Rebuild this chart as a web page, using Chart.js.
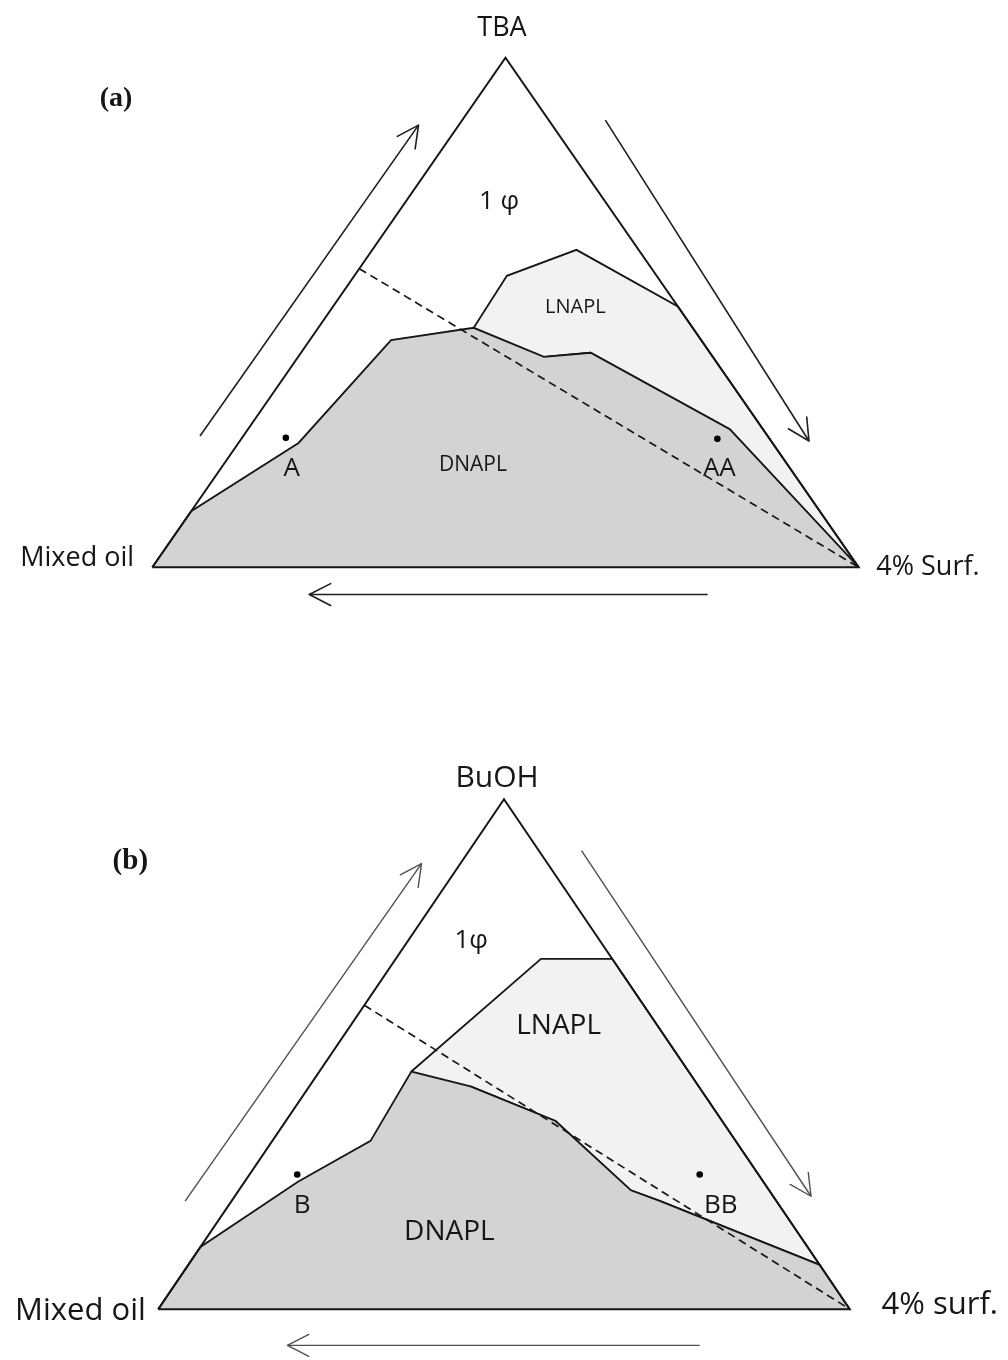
<!DOCTYPE html>
<html>
<head>
<meta charset="utf-8">
<title>Ternary phase diagrams</title>
<script src="https://cdn.jsdelivr.net/npm/chart.js@4.4.0/dist/chart.umd.min.js"></script>
<style>
  html, body { margin: 0; padding: 0; background: #fff; }
  #wrap { position: relative; width: 1008px; height: 1360px; }
  #wrap canvas { position: absolute; left: 0; }
</style>
</head>
<body>
<div id="wrap">
  <canvas id="panelA" width="1008" height="680" style="top:0"></canvas>
  <canvas id="panelB" width="1008" height="680" style="top:680px"></canvas>
</div>
<script>
// Compositions are [alcohol %, surfactant %]; mixed oil is the remainder.
// Vertices: alcohol at the apex, surfactant bottom-right, mixed oil bottom-left.

// ---- (a) TBA / 4% surfactant / mixed oil ----
const tbaDnaplLeft     = [[0, 0], [11.0, 0], [24.4, 8.5], [44.6, 11.5], [47.0, 22.0]];
const tbaPhaseBoundary = [[47.0, 22.0], [41.3, 34.8], [42.1, 41.0], [27.1, 68.2], [0, 100]];
const tbaLnaplTop      = [[47.0, 22.0], [57.2, 21.6], [62.3, 28.9], [51.2, 48.8]];
const tbaDilution      = [[58.6, 0], [0, 100]];
const tbaSampleNames   = ['A', 'AA'];
const tbaSamples       = [[25.4, 6.2], [25.2, 67.4]];

// ---- (b) BuOH / 4% surfactant / mixed oil ----
const buohDnaplLeft     = [[0, 0], [12.2, 0], [25.0, 7.7], [33.0, 14.2], [46.6, 13.3]];
const buohPhaseBoundary = [[46.6, 13.3], [43.7, 23.3], [36.9, 39.0], [23.3, 56.7], [21.2, 62.0], [8.7, 91.3]];
const buohLnaplTop      = [[46.6, 13.3], [68.7, 21.0], [68.7, 31.3]];
const buohDilution      = [[59.6, 0], [0, 100]];
const buohSampleNames   = ['B', 'BB'];
const buohSamples       = [[26.4, 6.9], [26.4, 65.1]];

const vertices = [[0, 0], [0, 100], [100, 0], [0, 0]];

// ternary composition -> plotting plane (base 0..100, height 0..100)
const toXY = ([a, s]) => ({ x: s + a / 2, y: a });
const poly = pts => pts.map(toXY);

const INK = '#161616';
const DNAPL_FILL = '#d3d3d3';
const LNAPL_FILL = '#f2f2f2';
const FONT = '"Open Sans", "DejaVu Sans", sans-serif';

// Draws arrowheads and all text labels, placed through the chart scales.
const annotate = {
  id: 'annotate',
  afterDatasetsDraw(chart, args, opts) {
    const { ctx } = chart;
    const sx = chart.scales.x, sy = chart.scales.y;
    ctx.save();
    (opts.arrows || []).forEach(ar => {
      const fx = sx.getPixelForValue(ar.from[0]), fy = sy.getPixelForValue(ar.from[1]);
      const tx = sx.getPixelForValue(ar.to[0]),   ty = sy.getPixelForValue(ar.to[1]);
      const ang = Math.atan2(ty - fy, tx - fx);
      const L = 24, h = 27 * Math.PI / 180;
      ctx.strokeStyle = ar.color;
      ctx.lineWidth = ar.width;
      ctx.lineCap = 'round';
      ctx.lineJoin = 'round';
      ctx.beginPath();
      ctx.moveTo(tx - L * Math.cos(ang - h), ty - L * Math.sin(ang - h));
      ctx.lineTo(tx, ty);
      ctx.lineTo(tx - L * Math.cos(ang + h), ty - L * Math.sin(ang + h));
      ctx.stroke();
    });
    ctx.fillStyle = INK;
    ctx.textBaseline = 'alphabetic';
    (opts.texts || []).forEach(t => {
      ctx.font = t.font;
      ctx.textAlign = t.align || 'center';
      ctx.fillText(t.text, sx.getPixelForValue(t.at[0]), sy.getPixelForValue(t.at[1]));
    });
    (opts.samples || []).forEach(p => {
      const pt = toXY(p.comp);
      ctx.font = p.font;
      ctx.textAlign = 'center';
      ctx.fillText(p.name, sx.getPixelForValue(pt.x) + p.dx, sy.getPixelForValue(pt.y) + p.dy);
    });
    ctx.restore();
  }
};

function lineSet(data, extra) {
  return Object.assign({
    data, showLine: true, pointRadius: 0, pointHoverRadius: 0,
    borderColor: INK, borderWidth: 1.8, fill: false, tension: 0
  }, extra);
}

function buildPanel(id, p) {
  const dnapl = poly(p.dnaplLeft.concat(p.boundary.slice(1), p.closeRight));
  const lnapl = poly(p.lnaplTop.concat(p.boundary.slice(1, p.boundaryEdge + 1).reverse()));
  const datasets = [
    lineSet(lnapl, { fill: 'shape', backgroundColor: LNAPL_FILL, order: 6 }),
    lineSet(dnapl, { fill: 'shape', backgroundColor: DNAPL_FILL, order: 5 }),
    lineSet(poly(vertices), { borderWidth: 2, order: 4 }),
    lineSet(poly(p.dilution), { borderDash: [8, 5], borderWidth: 1.7, order: 3 }),
    {
      data: poly(p.samples), showLine: false, pointRadius: 3.3, pointHoverRadius: 3.3,
      pointBackgroundColor: '#000', pointBorderColor: '#000', pointBorderWidth: 0, order: 1
    }
  ];
  p.arrows.forEach(ar => {
    datasets.push(lineSet([{ x: ar.from[0], y: ar.from[1] }, { x: ar.to[0], y: ar.to[1] }],
      { borderColor: ar.color, borderWidth: ar.width, order: 2 }));
  });
  return new Chart(document.getElementById(id), {
    type: 'line',
    data: { datasets },
    options: {
      responsive: false,
      animation: false,
      devicePixelRatio: 1,
      layout: { padding: 0 },
      events: [],
      plugins: {
        legend: { display: false },
        tooltip: { enabled: false },
        annotate: {
          arrows: p.arrows,
          texts: p.texts,
          samples: p.sampleNames.map((n, i) => ({ name: n, comp: p.samples[i], dx: p.labelShift[i][0], dy: p.labelShift[i][1], font: p.sampleFont }))
        }
      },
      scales: {
        x: { type: 'linear', min: p.xRange[0], max: p.xRange[1], display: false },
        y: { type: 'linear', min: p.yRange[0], max: p.yRange[1], display: false }
      }
    },
    plugins: [annotate]
  });
}

buildPanel('panelA', {
  dnaplLeft: tbaDnaplLeft, boundary: tbaPhaseBoundary, closeRight: [],
  boundaryEdge: tbaPhaseBoundary.length - 1,
  lnaplTop: tbaLnaplTop.concat([[0, 100]]),
  dilution: tbaDilution, samples: tbaSamples, sampleNames: tbaSampleNames,
  labelShift: [[6, 38], [2, 37]], sampleFont: '26px ' + FONT,
  xRange: [-21.10, 120.68], yRange: [-21.48, 110.69],
  arrows: [
    { from: [6.75, 25.75], to: [37.69, 86.78], color: '#1e1e1e', width: 1.6 },
    { from: [64.14, 87.76], to: [92.97, 24.78], color: '#1e1e1e', width: 1.6 },
    { from: [78.62, -5.35], to: [22.22, -5.35], color: '#1e1e1e', width: 1.6 }
  ],
  texts: [
    { text: 'TBA', at: [49.5, 104.3], font: '27px ' + FONT },
    { text: '(a)', at: [-7.45, 90.5], font: 'bold 28px "Liberation Serif", "Times New Roman", serif', align: 'left' },
    { text: '1 φ', at: [49.1, 70.3], font: '26px ' + FONT },
    { text: 'LNAPL', at: [59.9, 50.0], font: '20px ' + FONT },
    { text: 'DNAPL', at: [45.4, 18.95], font: '21px ' + FONT },
    { text: 'Mixed oil', at: [-18.7, 0.3], font: '27px ' + FONT, align: 'left' },
    { text: '4% Surf.', at: [102.5, -1.46], font: '27px ' + FONT, align: 'left' }
  ]
});

buildPanel('panelB', {
  dnaplLeft: buohDnaplLeft, boundary: buohPhaseBoundary, closeRight: [[0, 100]],
  boundaryEdge: buohPhaseBoundary.length - 1,
  lnaplTop: buohLnaplTop,
  dilution: buohDilution, samples: buohSamples, sampleNames: buohSampleNames,
  labelShift: [[5, 38], [21, 38]], sampleFont: '26px ' + FONT,
  xRange: [-22.41, 122.41], yRange: [-9.32, 122.72],
  arrows: [
    { from: [3.88, 21.17], to: [38.07, 87.38], color: '#505050', width: 1.4 },
    { from: [61.21, 89.90], to: [94.40, 22.14], color: '#505050', width: 1.4 },
    { from: [78.30, -7.10], to: [18.68, -7.10], color: '#505050', width: 1.4 }
  ],
  texts: [
    { text: 'BuOH', at: [49.0, 102.3], font: '30px ' + FONT },
    { text: '(b)', at: [-6.6, 86.4], font: 'bold 29px "Liberation Serif", "Times New Roman", serif', align: 'left' },
    { text: '1φ', at: [45.26, 70.9], font: '26px ' + FONT },
    { text: 'LNAPL', at: [57.9, 54.0], font: '28px ' + FONT },
    { text: 'DNAPL', at: [42.1, 13.6], font: '28px ' + FONT },
    { text: 'Mixed oil', at: [-20.7, -2.14], font: '31px ' + FONT, align: 'left' },
    { text: '4% surf.', at: [104.6, -0.97], font: '31px ' + FONT, align: 'left' }
  ]
});
</script>
</body>
</html>
